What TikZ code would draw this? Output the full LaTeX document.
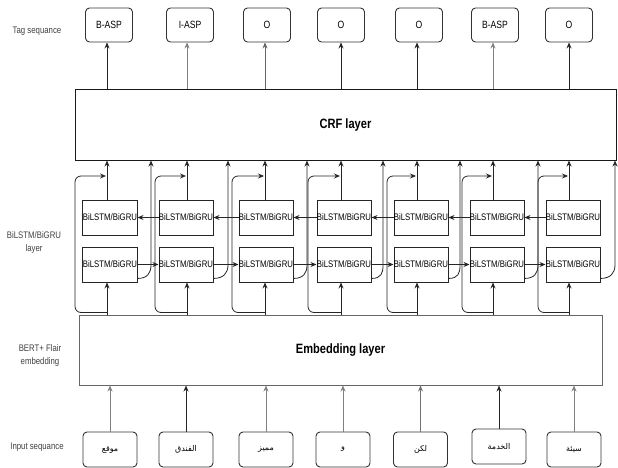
\documentclass[tikz,border=0pt]{standalone}
\usepackage{fontspec}
\setmainfont{Liberation Sans}[FakeStretch=0.82]
\newfontfamily\arabicfont[Script=Arabic]{DejaVu Sans}
\TeXXeTstate=1
\usetikzlibrary{arrows.meta,calc}
\begin{document}
\begin{tikzpicture}[x=1pt,y=-1pt,
  cell/.style={draw=black!85,line width=0.9pt,minimum width=54pt,minimum height=35pt,inner sep=0pt,font=\fontsize{9.5}{10}\selectfont},
  tagbox/.style={draw=black!80,line width=0.9pt,rounded corners=4pt,minimum width=47pt,minimum height=34pt,inner sep=0pt,font=\fontsize{10.5}{12}\selectfont},
  inbox/.style={draw=black!80,line width=0.9pt,rounded corners=4pt,minimum width=54pt,minimum height=35pt,inner sep=0pt,font=\arabicfont\fontsize{8}{9}\selectfont},
  layerbox/.style={draw,line width=1pt,inner sep=0pt,font=\bfseries\fontsize{13.5}{15}\selectfont},
  conn/.style={line width=0.8pt,draw=black!85,-{Stealth[length=6pt,width=5pt]}},
  gconn/.style={conn,draw=black!50},
  side/.style={font=\fontsize{9.5}{13}\selectfont,text=black!75,align=center}
]
\useasboundingbox (0,0) rectangle (618,468);

% layers
\node[layerbox,draw=black!90,minimum width=541pt,minimum height=70pt] (crf) at (345.5,125) {CRF layer};
\node[layerbox,draw=black!60,minimum width=523pt,minimum height=70pt] (emb) at (340.5,350) {Embedding layer};

% side labels
\node[side] (lt) at (37,31) {Tag sequance};
\node[side] (lb) at (34,243) {BiLSTM/BiGRU\\layer};
\node[side] (le) at (40,356) {BERT+ Flair\\embedding};
\node[side] (li) at (37,447) {Input sequance};

% columns
\foreach \i/\lx/\bx/\lpx/\kx/\tx/\ix/\iy/\w/\tc/\ic in {
  1/107/110/75/151/109/110/449.5/{موقع}/black!85/black!50,
  2/187/186/155/228/190/186/449.5/{الفندق}/black!50/black!85,
  3/265/266/232/307/267/266/449.5/{مميز}/black!60/black!50,
  4/341/344/308/383/341/343/449.5/{و}/black!85/black!50,
  5/417/421/387/460/419/420.5/449.5/{لكن}/black!85/black!55,
  6/493/497/462/538/495/499/446.5/{الخدمة}/black!50/black!85,
  7/569/573/538/615/569/574/449.5/{سيئة}/black!85/black!50} {
  \coordinate (c\i) at (\lx,0);
  \coordinate (l\i) at (\lpx,176);
  \coordinate (k\i) at (\kx,265);
  \node[tagbox] (tag\i) at (\tx,25) {};
  \node[cell] (top\i) at (\bx,217.5) {BiLSTM/BiGRU};
  \node[cell] (bot\i) at (\bx,264.5) {BiLSTM/BiGRU};
  \node[inbox] (in\i) at (\ix,\iy) {\beginR \w\endR};
  % tag arrows
  \draw[conn,draw=\tc] (crf.north -| c\i) -- (tag\i.south -| c\i);
  % top cell to CRF
  \draw[conn] (top\i.north -| c\i) -- (crf.south -| c\i);
  % embedding to bottom cell
  \draw[conn] (emb.north -| c\i) -- (bot\i.south -| c\i);
  % skip loop
  \draw[conn,rounded corners=6pt] ($(emb.north -| c\i)+(0,-2)$) -| (l\i) -- ($(l\i -| c\i)+(-1,0)$);
  % forward output curve
  \draw[conn] ($(bot\i.south east)+(0,-4)$) .. controls +(10,0) and +(0,8) .. (k\i) -- (crf.south -| k\i);
  % input arrows
  \draw[conn,draw=\ic] (in\i.north) -- (emb.south -| in\i);
}
\node[font=\fontsize{10.5}{12}\selectfont] (t1) at (tag1) {B-ASP};
\node[font=\fontsize{10.5}{12}\selectfont] (t2) at (tag2) {I-ASP};
\node[font=\fontsize{10.5}{12}\selectfont] (t3) at (tag3) {O};
\node[font=\fontsize{10.5}{12}\selectfont] (t4) at (tag4) {O};
\node[font=\fontsize{10.5}{12}\selectfont] (t5) at (tag5) {O};
\node[font=\fontsize{10.5}{12}\selectfont] (t6) at (tag6) {B-ASP};
\node[font=\fontsize{10.5}{12}\selectfont] (t7) at (tag7) {O};

% recurrent connections
\foreach \i/\j in {1/2,2/3,3/4,4/5,5/6,6/7} {
  \draw[conn] (bot\i.east) -- (bot\j.west);
  \draw[conn] (top\j.west) -- (top\i.east);
}
\end{tikzpicture}
\end{document}
